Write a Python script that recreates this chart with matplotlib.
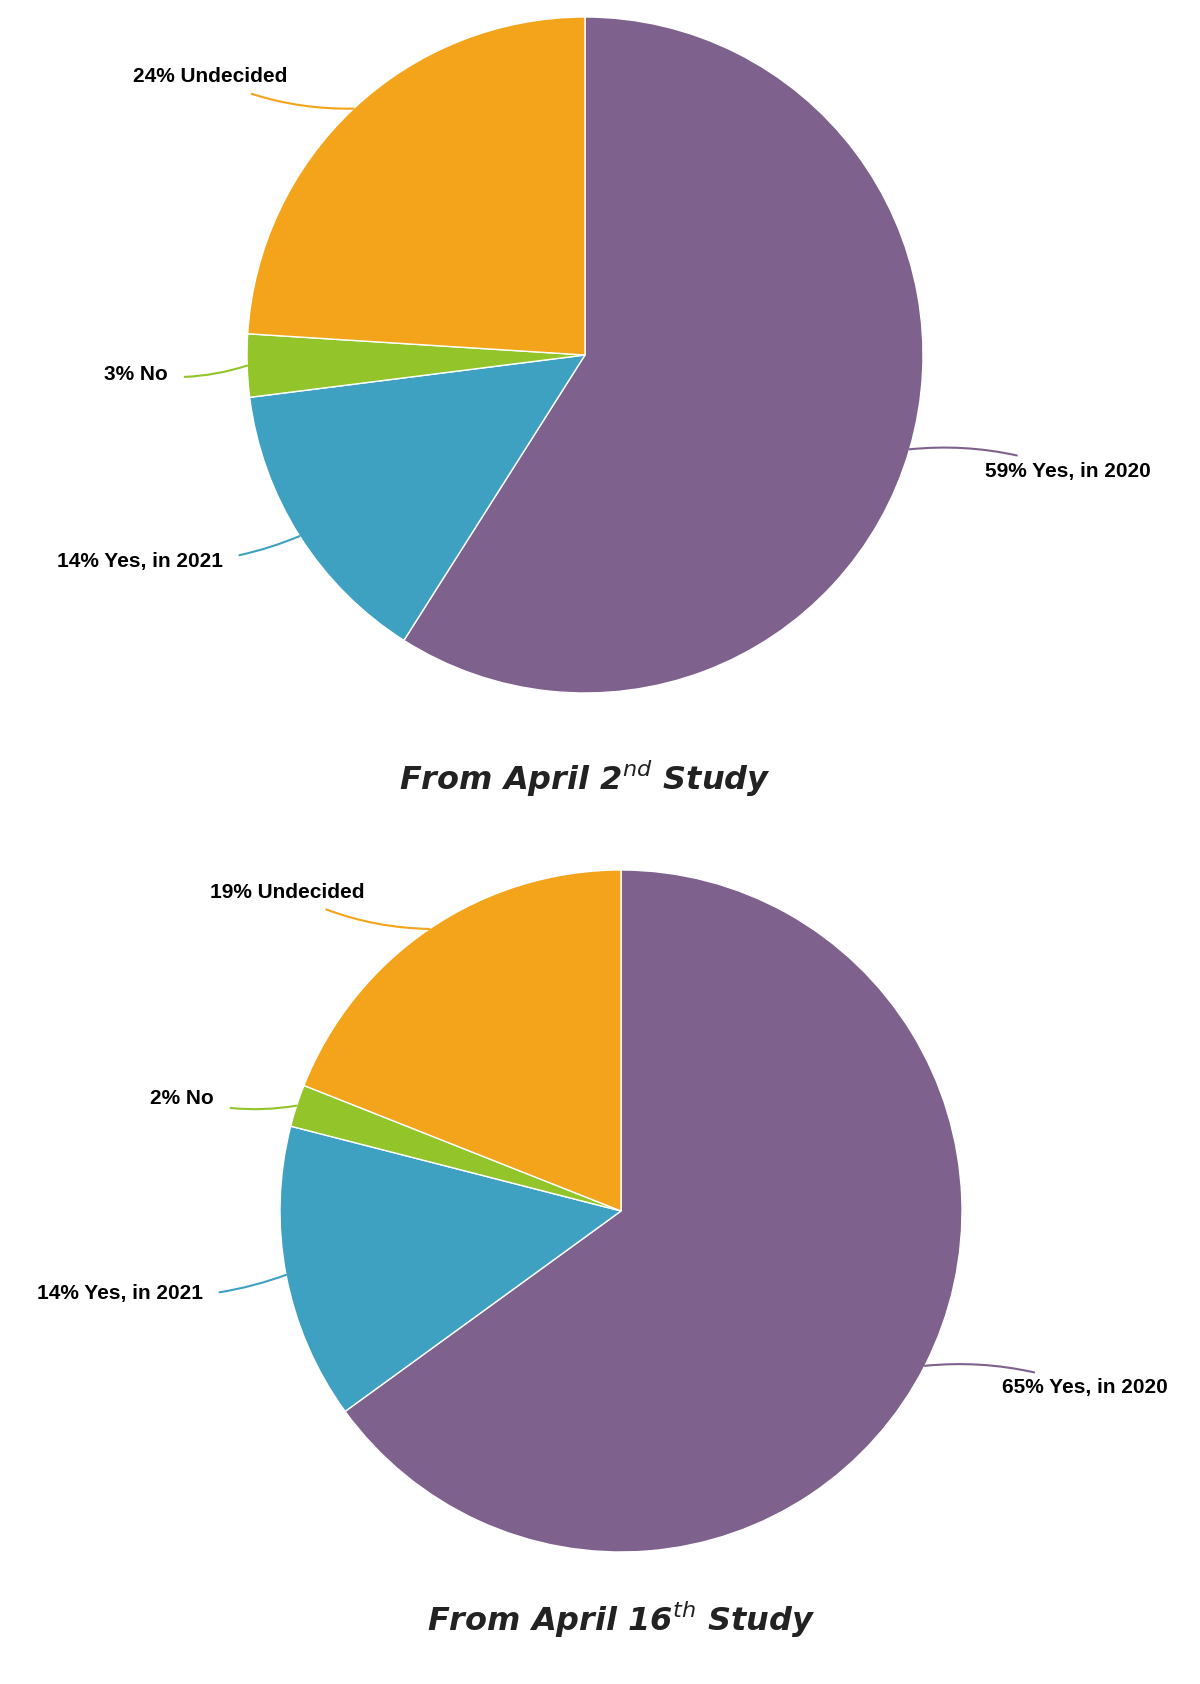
import matplotlib
matplotlib.use("Agg")
import matplotlib.pyplot as plt
import numpy as np

categories = ["Yes, in 2020", "Yes, in 2021", "No", "Undecided"]
study1_values = [59, 14, 3, 24]
study2_values = [65, 14, 2, 19]
titles = ["From April 2$^{nd}$ Study", "From April 16$^{th}$ Study"]
colors = ["#7E618D", "#3FA1C2", "#93C52A", "#F4A41A"]

H = 1684
fig = plt.figure(figsize=(12, 16.84), dpi=100)
ax = fig.add_axes([0, 0, 1, 1])
ax.set_xlim(0, 1200); ax.set_ylim(0, H); ax.axis("off")

pies = [
    dict(vals=study1_values, c=(585, 355), r=338, title_y=779,
         labels=[(985, 471, "left"), (223, 562, "right"), (168, 374, "right"), (287, 77, "right")]),
    dict(vals=study2_values, c=(621, 1211), r=341, title_y=1620,
         labels=[(1002, 1388, "left"), (203, 1294, "right"), (214, 1098, "right"), (365, 892, "right")]),
]

for p, title in zip(pies, titles):
    cx, cy = p["c"][0], H - p["c"][1]
    wedges, _ = ax.pie(p["vals"], colors=colors, startangle=90, counterclock=False,
                       center=(cx, cy), radius=p["r"], frame=True,
                       wedgeprops=dict(linewidth=1, edgecolor="white"))
    for w, v, cat, col, (tx, ty, ha) in zip(wedges, p["vals"], categories, colors, p["labels"]):
        ang = np.deg2rad((w.theta1 + w.theta2) / 2)
        ex, ey = cx + p["r"] * np.cos(ang), cy + p["r"] * np.sin(ang)
        ax.annotate(f"{v}% {cat}", xy=(ex, ey), xytext=(tx, H - ty),
                    ha=ha, va="center", fontsize=15, fontweight="bold",
                    family=["Liberation Sans", "DejaVu Sans"],
                    arrowprops=dict(arrowstyle="-", color=col, lw=1.5,
                                    connectionstyle="arc3,rad=0.12", shrinkA=10, shrinkB=0))
    ax.text(cx, H - p["title_y"], title, ha="center", va="center", fontsize=23,
            fontweight="bold", style="italic", color="#222222", family="DejaVu Sans")

ax.set_xlim(0, 1200); ax.set_ylim(0, H); ax.set_aspect("equal"); ax.axis("off")
fig.savefig("out.png", dpi=100, facecolor="white")
